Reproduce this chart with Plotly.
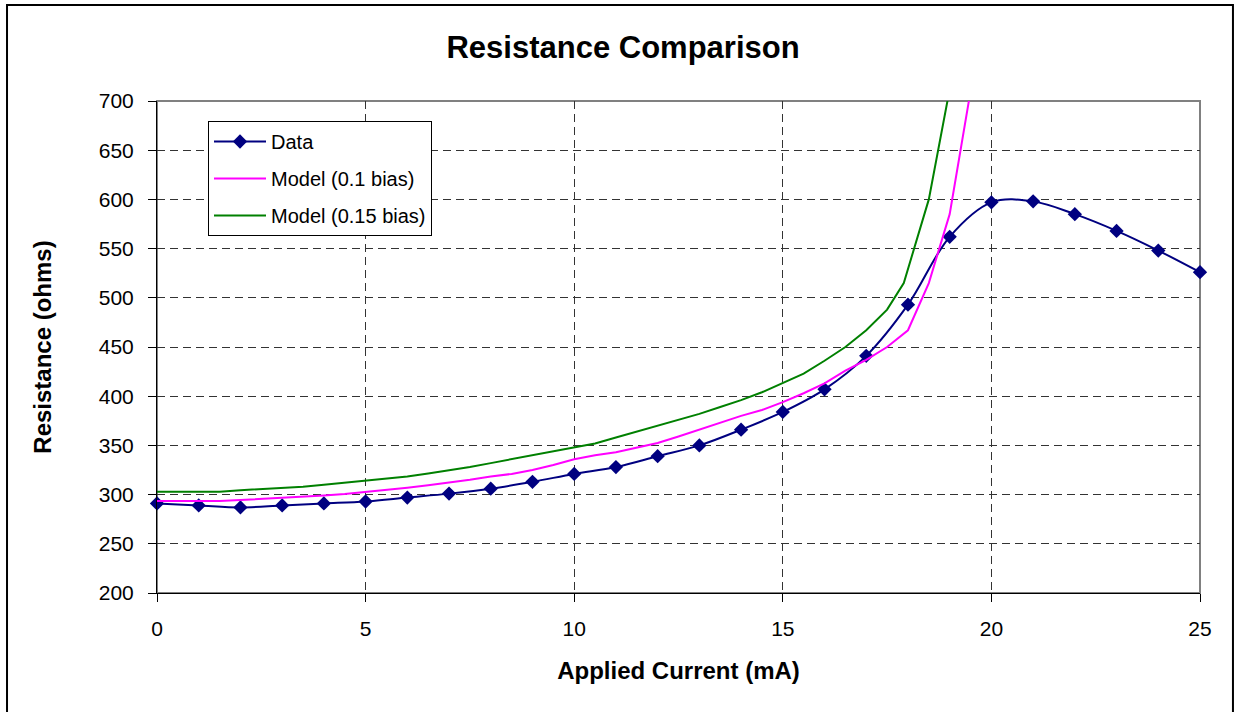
import plotly.graph_objects as go

# ---- data ----
data_current = [0, 1, 2, 3, 4, 5, 6, 7, 8, 9, 10, 11, 12, 13, 14, 15, 16, 17, 18, 19, 20, 21, 22, 23, 24, 25]
data_resistance = [291, 289, 287, 289, 291, 293, 297, 301, 306, 313, 321, 328, 339, 350, 366, 384, 407, 441, 493, 562, 597, 598, 585, 568, 548, 526]

model01_current = [0, 0.5, 1, 1.5, 2, 2.5, 3, 3.5, 4, 4.5, 5, 5.5, 6, 6.5, 7, 7.5, 8, 8.5, 9, 9.5,
                   10, 10.5, 11, 11.5, 12, 12.5, 13, 13.5, 14, 14.5, 15, 15.5, 16, 16.5, 17, 17.5,
                   18, 18.5, 19, 19.5]
model01_resistance = [293.5, 293.5, 293.5, 293.5, 294.5, 295.5, 296.5, 297.5, 299, 300.5, 302.5, 304.5,
                      307, 309.5, 312, 315, 318.5, 321, 325, 330, 336, 340, 343, 347.5, 352.5, 359,
                      366, 373, 380, 386, 394, 403, 413, 426, 437, 450, 467, 515, 585, 710]

model015_current = [0, 0.5, 1, 1.5, 2, 2.5, 3, 3.5, 4, 4.5, 5, 5.5, 6, 6.5, 7, 7.5, 8, 8.5, 9, 9.5,
                    10, 10.5, 11, 11.5, 12, 12.5, 13, 13.5, 14, 14.5, 15, 15.5, 16, 16.5, 17, 17.5,
                    17.9, 18.5, 19]
model015_resistance = [303, 303, 303, 303, 304.5, 305.5, 306.5, 308, 310, 312, 314.5, 316.5, 318.5,
                       321.5, 324.5, 328, 332, 336, 340, 344, 348.5, 352, 358, 364, 370, 376, 382,
                       389, 396, 404, 413.5, 423, 436, 450, 467, 488, 515, 600, 712]

x_ticks = [0, 5, 10, 15, 20, 25]
y_ticks = [200, 250, 300, 350, 400, 450, 500, 550, 600, 650, 700]

FONT = "Liberation Sans, Arial, sans-serif"

fig = go.Figure()
fig.add_trace(go.Scatter(
    x=data_current, y=data_resistance, name="Data", mode="lines+markers",
    line=dict(color="#000080", width=2, shape="spline", smoothing=1),
    marker=dict(symbol="diamond", size=11, color="#000080"),
    cliponaxis=False, legendgroup="a"))
fig.add_trace(go.Scatter(
    x=model01_current, y=model01_resistance, name="Model (0.1 bias)", mode="lines",
    line=dict(color="#FF00FF", width=2), legendgroup="b"))
fig.add_trace(go.Scatter(
    x=model015_current, y=model015_resistance, name="Model (0.15 bias)", mode="lines",
    line=dict(color="#008000", width=2), legendgroup="c"))

grid = dict(showgrid=True, gridcolor="#333333", gridwidth=1, griddash="8px,5px")

fig.update_xaxes(
    range=[0, 25], tickvals=x_ticks, ticks="outside", ticklen=8, tickcolor="black",
    showline=True, linecolor="black", linewidth=1, zeroline=False,
    tickfont=dict(family=FONT, size=21, color="black"), ticklabelstandoff=9,
    title=dict(text="<b>Applied Current (mA)</b>", font=dict(family=FONT, size=24, color="black"), standoff=22),
    **grid)
fig.update_yaxes(
    range=[200, 700], tickvals=y_ticks, ticks="outside", ticklen=8, tickcolor="black",
    showline=True, linecolor="black", linewidth=1, zeroline=False,
    tickfont=dict(family=FONT, size=21, color="black"), ticklabelstandoff=10,
    title=dict(text="<b>Resistance (ohms)</b>", font=dict(family=FONT, size=24, color="black"), standoff=40),
    **grid)

# plot-area border (gray) and outer chart border
fig.add_shape(type="rect", xref="paper", yref="paper", x0=0, x1=1, y0=0, y1=1,
              line=dict(color="#808080", width=2), layer="below")
fig.add_shape(type="rect", xref="paper", yref="paper", x0=-0.1438, x1=1.0316, y0=-0.26, y1=1.195,
              line=dict(color="black", width=2), layer="above")

fig.update_layout(
    width=1235, height=712, autosize=False,
    margin=dict(l=157, r=35, t=101, b=119),
    paper_bgcolor="white", plot_bgcolor="white",
    title=dict(text="<b>Resistance Comparison</b>", x=0.5045, xref="container", xanchor="center",
               y=1 - 47.5 / 712, yref="container", yanchor="middle",
               font=dict(family=FONT, size=31, color="black")),
    legend=dict(x=0.0489, y=0.9593, xanchor="left", yanchor="top",
                bgcolor="white", bordercolor="black", borderwidth=1,
                font=dict(family=FONT, size=20, color="black"),
                itemwidth=52, tracegroupgap=8),
    showlegend=True,
)

fig.write_html("out.html")
